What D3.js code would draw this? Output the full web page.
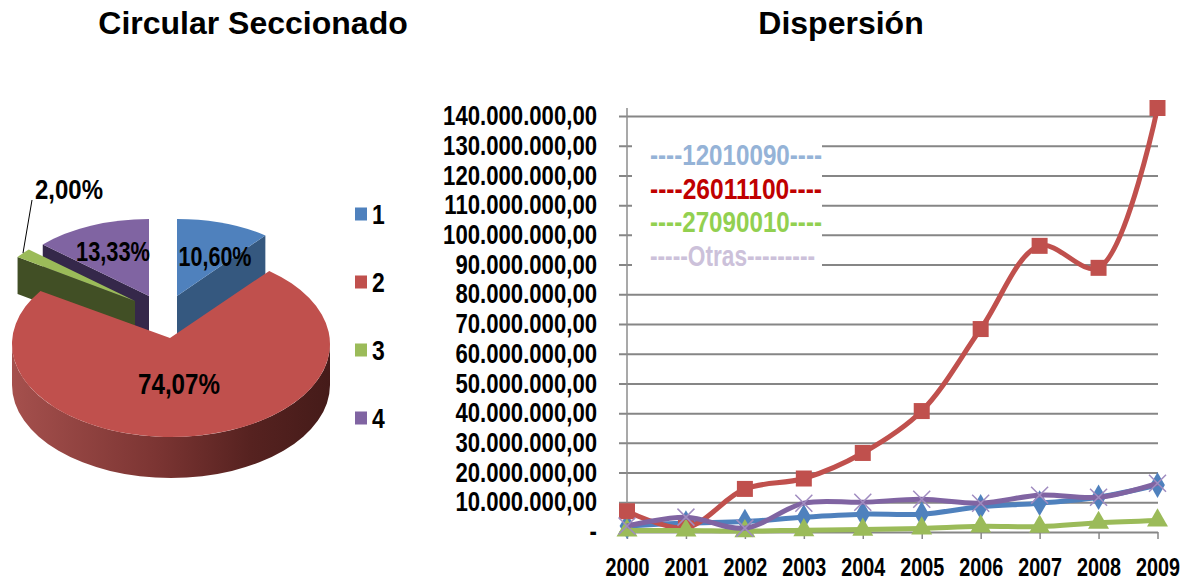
<!DOCTYPE html>
<html>
<head>
<meta charset="utf-8">
<script src="https://cdn.jsdelivr.net/npm/d3@7"></script>
<style>
  html, body { margin: 0; padding: 0; background: #fff; }
  text { font-family: "Liberation Sans", Arial, sans-serif; font-weight: bold; fill: #000; }
  .title { font-size: 32px; }
</style>
</head>
<body>
<svg id="chart" width="1191" height="583"></svg>
<script>
// pie data
const pieNames = ["1", "2", "3", "4"];
const pieValues = [10.60, 74.07, 2.00, 13.33];
const pieLabels = ["10,60%", "74,07%", "2,00%", "13,33%"];
const pieColors = ["#4f81bd", "#c0504d", "#9bbb59", "#8064a2"];
const pieDark = ["#35587f", "#7c3533", "#414f25", "#35284a"];

// line data
const years = [2000, 2001, 2002, 2003, 2004, 2005, 2006, 2007, 2008, 2009];
const s12010090 = [2000000, 3000000, 3500000, 5000000, 6000000, 6000000, 8500000, 9700000, 11700000, 15800000];
const s26011100 = [7000000, 1500000, 14500000, 18000000, 26600000, 40700000, 68300000, 96300000, 88900000, 142700000];
const s27090010 = [500000, 500000, 300000, 600000, 800000, 1200000, 1900000, 1800000, 3100000, 3900000];
const sOtras = [2000000, 5000000, 1300000, 9700000, 10000000, 11000000, 9700000, 12400000, 11700000, 16400000];
const yTicks = d3.range(0, 140000001, 10000000);
const legendLabels = ["----12010090----", "----26011100----", "----27090010----", "-----Otras---------"];
const legendColors = ["#95b3d7", "#c00000", "#92d050", "#ccc1da"];

const svg = d3.select("#chart");

// the source text is a squeezed Arial, so squeeze ours the same way
function squeeze(sel, k) {
    sel.each(function () {
        const w = this.getComputedTextLength();
        d3.select(this).attr("textLength", w * k).attr("lengthAdjust", "spacingAndGlyphs");
    });
}

svg.append("text").attr("class", "title").attr("x", 253).attr("y", 34)
    .attr("text-anchor", "middle").text("Circular Seccionado");
svg.append("text").attr("class", "title").attr("x", 841).attr("y", 34)
    .attr("text-anchor", "middle").text("Dispersión");

// ---------- 3D pie ----------
const angles = d3.pie().sort(null)(pieValues);
// apex, ellipse centre and radii of each slice (exploded slices are smaller in the perspective)
const geo = [
    { ax: 177, ay: 296, cx: 177, cy: 296, rx: 143, ry: 77, depth: 39 },
    { ax: 170, ay: 338, cx: 171, cy: 344, rx: 159, ry: 93, depth: 41 },
    { ax: 135, ay: 301, cx: 135, cy: 301, rx: 143, ry: 77, depth: 37 },
    { ax: 149, ay: 296, cx: 149, cy: 296, rx: 143, ry: 77, depth: 37 }
];
function pt(g, a) {
    return [g.cx + g.rx * Math.sin(a), g.cy - g.ry * Math.cos(a)];
}
function sector(i) {
    const g = geo[i], d = angles[i];
    const p0 = pt(g, d.startAngle), p1 = pt(g, d.endAngle);
    const large = d.endAngle - d.startAngle > Math.PI ? 1 : 0;
    return `M${g.ax},${g.ay}L${p0}A${g.rx},${g.ry} 0 ${large} 1 ${p1}Z`;
}
function cutFace(i, a) {
    const g = geo[i], p = pt(g, a);
    return `M${g.ax},${g.ay}L${p}L${p[0]},${p[1] + g.depth}L${g.ax},${g.ay + g.depth}Z`;
}

const grad = svg.append("defs").append("linearGradient").attr("id", "redSide");
[["0%", "#a5504d"], ["45%", "#7c3533"], ["75%", "#562220"], ["100%", "#451b19"]].forEach(s => {
    grad.append("stop").attr("offset", s[0]).attr("stop-color", s[1]);
});

const pieG = svg.append("g");
// purple, green, blue go behind the big red slice
[3, 2, 0].forEach(i => {
    const edge = i === 0 ? angles[i].endAngle : angles[i].startAngle;
    pieG.append("path").attr("d", cutFace(i, edge)).attr("fill", pieDark[i]);
    pieG.append("path").attr("d", sector(i)).attr("fill", pieColors[i]);
});
const r = geo[1];
const rl = r.cx - r.rx, rr = r.cx + r.rx;
pieG.append("path")
    .attr("d", `M${rr},${r.cy}A${r.rx},${r.ry} 0 0 1 ${rl},${r.cy}L${rl},${r.cy + r.depth}A${r.rx},${r.ry} 0 0 0 ${rr},${r.cy + r.depth}Z`)
    .attr("fill", "url(#redSide)");
pieG.append("path").attr("d", sector(1)).attr("fill", pieColors[1]);

const labelPos = [[215, 266, 27, 73], [179, 394, 30, 82], [69, 199, 27, 68], [113, 261, 27, 74]];
pieLabels.forEach((t, i) => {
    svg.append("text").attr("x", labelPos[i][0]).attr("y", labelPos[i][1])
        .attr("text-anchor", "middle").style("font-size", labelPos[i][2] + "px")
        .attr("textLength", labelPos[i][3]).attr("lengthAdjust", "spacingAndGlyphs").text(t);
});
svg.append("line").attr("x1", 32).attr("y1", 200).attr("x2", 23).attr("y2", 253)
    .attr("stroke", "#000").attr("stroke-width", 1);

pieNames.forEach((n, i) => {
    const ly = 214 + i * 68;
    svg.append("rect").attr("x", 355).attr("y", ly - 6.5).attr("width", 12).attr("height", 13).attr("fill", pieColors[i]);
    svg.append("text").attr("x", 372).attr("y", ly + 10).style("font-size", "27px").text(n).call(squeeze, 0.85);
});

// ---------- lines ----------
const x = d3.scalePoint().domain(years).range([627, 1157.5]);
const y = d3.scaleLinear().domain([0, 140000000]).range([532, 116]);
const esFormat = d3.formatLocale({ decimal: ",", thousands: ".", grouping: [3], currency: ["", ""] }).format(",.2f");

const gridColor = "#868686";
const yAxis = svg.append("g").attr("transform", "translate(627,0)")
    .call(d3.axisLeft(y).tickValues(yTicks).tickSize(8).tickPadding(22)
        .tickFormat(d => d === 0 ? "-" : esFormat(d)));
yAxis.select(".domain").remove();
yAxis.attr("font-family", null).attr("font-size", null);
yAxis.selectAll("text").style("font-size", "27px").call(squeeze, 0.82);
yAxis.selectAll(".tick line").attr("stroke", gridColor).attr("stroke-width", 2)
    .attr("x1", -8).attr("x2", 531);
yAxis.append("line").attr("y1", y(0)).attr("y2", 108).attr("stroke", "#8c8c8c").attr("stroke-width", 1.5);

const xAxis = svg.append("g").attr("transform", "translate(0,532)")
    .call(d3.axisBottom(x).tickSize(7).tickPadding(19).tickFormat(d3.format("d")));
xAxis.select(".domain").remove();
xAxis.attr("font-family", null).attr("font-size", null);
xAxis.selectAll("text").style("font-size", "25px").call(squeeze, 0.79);
xAxis.selectAll(".tick line").attr("stroke", gridColor).attr("stroke-width", 1.5);

// white box of the hand made legend hides the gridlines
svg.append("rect").attr("x", 632).attr("y", 125).attr("width", 190).attr("height", 147).attr("fill", "#fff");
const legendWidths = [172, 172, 172, 165];
legendLabels.forEach((t, i) => {
    svg.append("text").attr("x", 650).attr("y", 165 + i * 33.7)
        .style("font-size", "29px").style("fill", legendColors[i])
        .attr("textLength", legendWidths[i]).attr("lengthAdjust", "spacingAndGlyphs").text(t);
});

const line = d3.line().x((d, i) => x(years[i])).y(d => y(d)).curve(d3.curveCatmullRom.alpha(0.5));
const series = [
    { values: s12010090, color: pieColors[0], marker: d3.symbolDiamond, size: 190 },
    { values: s26011100, color: pieColors[1], marker: d3.symbolSquare, size: 256 },
    { values: s27090010, color: pieColors[2], marker: d3.symbolTriangle, size: 190 },
    { values: sOtras, color: pieColors[3], marker: d3.symbolX, size: 190 }
];
series.forEach(s => {
    const g = svg.append("g");
    g.append("path").attr("d", line(s.values)).attr("fill", "none")
        .attr("stroke", s.color).attr("stroke-width", 5).attr("stroke-linejoin", "round");
    g.selectAll("path.m").data(s.values).enter().append("path")
        .attr("class", "m")
        .attr("transform", (d, i) => `translate(${x(years[i])},${y(d)})`)
        .attr("d", d3.symbol(s.marker, s.size))
        .attr("fill", s.marker === d3.symbolX ? "none" : s.color)
        .attr("stroke", s.marker === d3.symbolX ? "#a08cc0" : "none")
        .attr("stroke-width", 1.5);
});
</script>
</body>
</html>
